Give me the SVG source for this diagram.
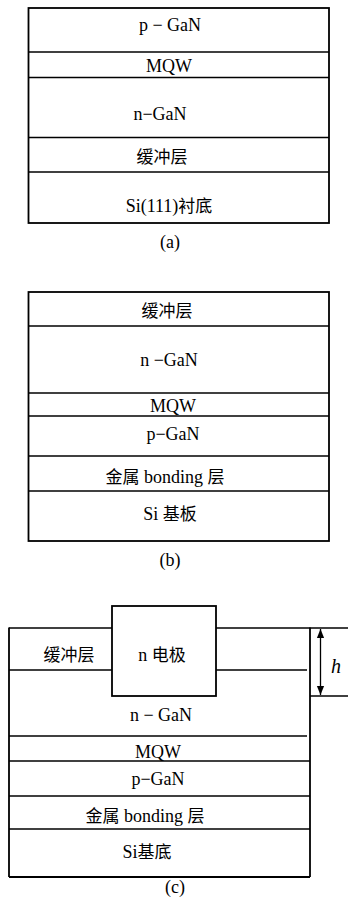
<svg xmlns="http://www.w3.org/2000/svg" width="348" height="906" viewBox="0 0 348 906">
<style>
.bg{fill:#fff}
.box{fill:none;stroke:#000;stroke-width:1.8}
.ln{fill:none;stroke:#000;stroke-width:1.3}
text{font-family:'Liberation Serif','Times New Roman','DejaVu Serif','Noto Sans CJK SC',serif;font-size:18px;fill:#000;text-anchor:middle}
.cj{font-family:'Noto Sans CJK SC','Noto Sans CJK JP',sans-serif;font-size:17px}
.h{font-style:italic;font-size:20px;text-anchor:start}
</style>
<defs>
<marker id="ah" viewBox="0 0 10 10" refX="10" refY="5" markerWidth="9" markerHeight="9" markerUnits="userSpaceOnUse" orient="auto-start-reverse">
<path d="M0,1 L10,5 L0,9 z" fill="#000"/>
</marker>
</defs>
<rect class="bg" x="0" y="0" width="348" height="906"/>

<!-- (a) -->
<g id="a">
<rect class="box" x="28.5" y="8" width="300.5" height="215"/>
<line class="ln" x1="28.5" y1="52" x2="329" y2="52"/>
<line class="ln" x1="28.5" y1="77.5" x2="329" y2="77.5"/>
<line class="ln" x1="28.5" y1="137.5" x2="329" y2="137.5"/>
<line class="ln" x1="28.5" y1="172" x2="329" y2="172"/>
<g id="a-pgan"><text x="170" y="31">p − GaN</text></g>
<g id="a-mqw"><text x="169" y="72">MQW</text></g>
<g id="a-ngan"><text x="160" y="120">n−GaN</text></g>
<g id="a-buffer"><text class="cj" x="162" y="163">缓冲层</text></g>
<g id="a-si"><text x="169" y="212">Si(111)<tspan class="cj">衬底</tspan></text></g>
<text x="170" y="248">(a)</text>
</g>

<!-- (b) -->
<g id="b">
<rect class="box" x="28.5" y="292" width="300.5" height="249"/>
<line class="ln" x1="28.5" y1="326" x2="329" y2="326"/>
<line class="ln" x1="28.5" y1="393" x2="329" y2="393"/>
<line class="ln" x1="28.5" y1="416" x2="329" y2="416"/>
<line class="ln" x1="28.5" y1="456" x2="329" y2="456"/>
<line class="ln" x1="28.5" y1="491" x2="329" y2="491"/>
<g id="b-buffer"><text class="cj" x="167" y="317">缓冲层</text></g>
<g id="b-ngan"><text x="169" y="366">n −GaN</text></g>
<g id="b-mqw"><text x="173" y="412">MQW</text></g>
<g id="b-pgan"><text x="173" y="440">p−GaN</text></g>
<g id="b-bond"><text x="165" y="483"><tspan class="cj">金属</tspan> bonding <tspan class="cj">层</tspan></text></g>
<g id="b-si"><text x="170" y="520">Si <tspan class="cj">基板</tspan></text></g>
<text x="170" y="566">(b)</text>
</g>

<!-- (c) -->
<g id="c">
<line class="ln" x1="9" y1="628" x2="112" y2="628"/>
<line class="ln" x1="216" y1="628" x2="348" y2="628"/>
<line class="box" x1="9" y1="627.4" x2="9" y2="877"/>
<line class="box" x1="310" y1="627.4" x2="310" y2="877"/>
<line class="box" x1="9" y1="877" x2="310" y2="877"/>
<line class="ln" x1="9" y1="670" x2="112" y2="670"/>
<line class="ln" x1="216" y1="670" x2="307" y2="670"/>
<line class="ln" x1="9" y1="736" x2="307" y2="736"/>
<line class="ln" x1="9" y1="761" x2="310" y2="761"/>
<line class="ln" x1="9" y1="796" x2="310" y2="796"/>
<line class="ln" x1="9" y1="829" x2="310" y2="829"/>
<line class="ln" x1="310" y1="696" x2="348" y2="696"/>
<g id="c-electrode">
<rect class="box" x="112" y="606" width="104" height="90" fill="#fff"/>
<text x="162" y="661">n  <tspan class="cj">电极</tspan></text>
</g>
<g id="c-buffer"><text class="cj" x="69" y="661">缓冲层</text></g>
<g id="c-ngan"><text x="161" y="721">n − GaN</text></g>
<g id="c-mqw"><text x="158" y="758">MQW</text></g>
<g id="c-pgan"><text x="158" y="785">p−GaN</text></g>
<g id="c-bond"><text x="145" y="822"><tspan class="cj">金属</tspan> bonding <tspan class="cj">层</tspan></text></g>
<g id="c-si"><text x="147" y="858">Si<tspan class="cj">基底</tspan></text></g>
<text x="175" y="893">(c)</text>
</g>

<g id="connectors">
<line class="ln" x1="320.5" y1="629" x2="320.5" y2="695" marker-start="url(#ah)" marker-end="url(#ah)"/>
<text class="h" x="331" y="673">h</text>
</g>
</svg>
